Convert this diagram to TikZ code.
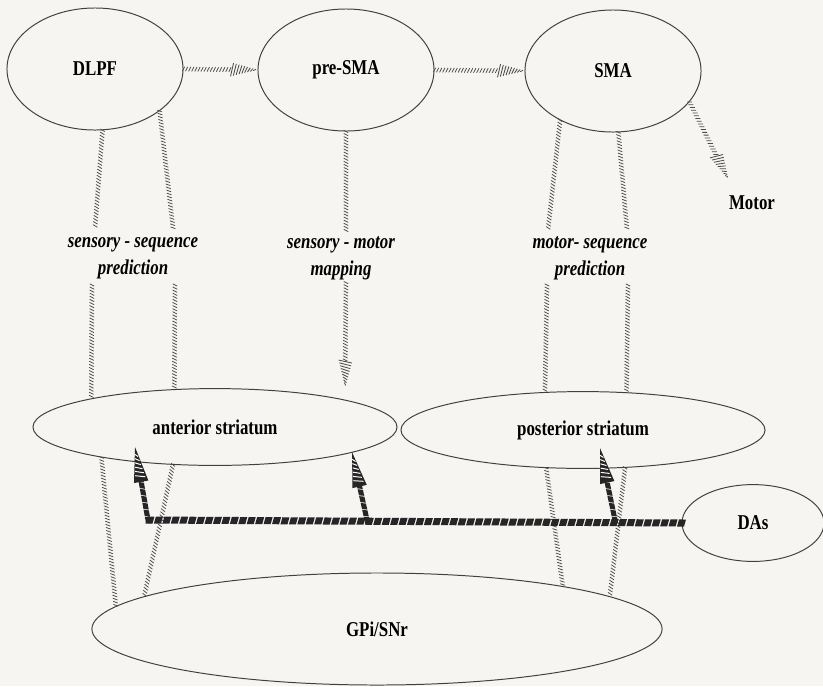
\documentclass[tikz,border=0pt]{standalone}
\usepackage{fontspec}
\setmainfont{Liberation Serif}[FakeStretch=0.8]
\usepackage{tikz}
\usetikzlibrary{shapes.geometric,decorations.markings,calc}

\definecolor{paper}{RGB}{246,245,241}
\definecolor{hatchgray}{RGB}{75,75,75}

% hatched arrow heads, drawn in the frame of the path end
\newcommand{\hatchhead}{%
  \foreach \k in {1,...,9}
    \draw[hatchgray, line width=0.6pt] ({-\k*2pt-1pt},{-\k*0.52pt}) -- ({-\k*2pt+1pt},{\k*0.52pt});}
\newcommand{\dahead}{%
  \fill[black!85] (0,0) -- (-25pt,5.2pt) -- (-25pt,-5.2pt) -- cycle;
  \foreach \k in {2,...,7}
    \draw[white, line width=0.7pt] ({-\k*3pt-1pt},{-\k*0.5pt}) -- ({-\k*3pt+1pt},{\k*0.5pt});}

\tikzset{
  area/.style={ellipse, draw=black!75, line width=0.7pt, inner sep=0pt},
  loopnote/.style={font=\fontsize{15}{19}\selectfont\bfseries\itshape, align=center, inner sep=2pt},
  hatch/.style={decorate, decoration={markings,
      mark=between positions 0 and 1 step 2.2pt with
        {\draw[hatchgray, line width=0.55pt] (-0.8pt,-1.6pt) -- (0.8pt,1.6pt);}}},
  hatcharrow/.style={decorate, decoration={markings,
      mark=between positions 0 and -19pt step 2.2pt with
        {\draw[hatchgray, line width=0.55pt] (-0.8pt,-1.6pt) -- (0.8pt,1.6pt);},
      mark=at position -0.1pt with {\hatchhead}}},
  dabar/.style={decorate, decoration={markings,
      mark=between positions 0 and 1 step 6pt with
        {\fill[black!85] (-3.2pt,-2.5pt) -- (1.8pt,-2.5pt) -- (3.2pt,2.5pt) -- (-1.8pt,2.5pt) -- cycle;}}},
  daarrow/.style={decorate, decoration={markings,
      mark=between positions 0 and -22pt step 5pt with
        {\fill[black!85] (-2.8pt,-1.8pt) -- (1.6pt,-1.8pt) -- (2.8pt,1.8pt) -- (-1.6pt,1.8pt) -- cycle;},
      mark=at position -0.1pt with {\dahead}}}
}

\begin{document}
\begin{tikzpicture}[x=0.025cm, y=-0.025cm,
    every node/.style={font=\fontsize{15}{18}\selectfont\bfseries}]
  \path[use as bounding box, fill=paper] (0,0) rectangle (823,686);

  % cortical areas
  \node[area, minimum width=4.4cm, minimum height=3.05cm] (dlpf) at (95,69) {DLPF};
  \node[area, minimum width=4.4cm, minimum height=3.05cm] (presma) at (346,70) {pre-SMA};
  \node[area, minimum width=4.4cm, minimum height=3.05cm] (sma) at (613,71) {SMA};
  \node (motor) at (752,203) {Motor};

  % basal ganglia
  \node[area, minimum width=9.1cm, minimum height=1.92cm] (antstr) at (215,427) {anterior striatum};
  \node[area, minimum width=9.1cm, minimum height=1.92cm] (poststr) at (583,430) {posterior striatum};
  \node[area, minimum width=3.55cm, minimum height=1.92cm] (das) at (753,523) {DAs};
  \node[area, minimum width=14.25cm, minimum height=2.8cm] (gpi) at (377,629) {GPi/SNr};

  % loop labels
  \node[loopnote] (seqpred) at (133,258) {sensory - sequence\\prediction};
  \node[loopnote] (smmap) at (341,258) {sensory - motor\\mapping};
  \node[loopnote] (motpred) at (590,258) {motor- sequence\\prediction};

  % break points of the loop lines round their labels
  \coordinate (a1) at (95,228);  \coordinate (a2) at (92,285);
  \coordinate (a3) at (173,228); \coordinate (a4) at (175,285);
  \coordinate (m1) at (548,230); \coordinate (m2) at (547,285);
  \coordinate (m3) at (627,230); \coordinate (m4) at (628,285);
  \coordinate (smtip) at (345,387);
  \coordinate (motortip) at (728,179);

  % cortex to cortex and to motor output
  \path[hatcharrow] (dlpf.east) -- (presma.west);
  \path[hatcharrow] (presma.east) -- (sma.west);
  \path[hatcharrow] (sma.-22) -- (motortip);

  % DLPF loop
  \path[hatch] (dlpf.-83) -- (a1);
  \path[hatch] (a2) -- (antstr.167);
  \path[hatch] (dlpf.-33) -- (a3);
  \path[hatch] (a4) -- (antstr.137);
  \path[hatch] (antstr.-165) -- (gpi.175);
  \path[hatch] (antstr.-138) -- (gpi.172);

  % pre-SMA projection
  \path[hatch] (presma.south) -- (presma.south |- smmap.north);
  \path[hatcharrow] (presma.south |- smmap.south) -- (smtip);

  % SMA loop
  \path[hatch] (sma.-137) -- (m1);
  \path[hatch] (m2) -- (poststr.135);
  \path[hatch] (sma.-85) -- (m3);
  \path[hatch] (m4) -- (poststr.41);
  \path[hatch] (poststr.-134) -- (gpi.13);
  \path[hatch] (poststr.-42) -- (gpi.8);

  % dopamine input
  \coordinate (daL) at (148,520); \coordinate (daM) at (367,520); \coordinate (daR) at (615,520);
  \coordinate (tipL) at (135,447); \coordinate (tipM) at (352,452); \coordinate (tipR) at (600,448);
  \path[dabar] (das.west) -- (daL);
  \path[daarrow] (daL) -- (tipL);
  \path[daarrow] (daM) -- (tipM);
  \path[daarrow] (daR) -- (tipR);
\end{tikzpicture}
\end{document}
